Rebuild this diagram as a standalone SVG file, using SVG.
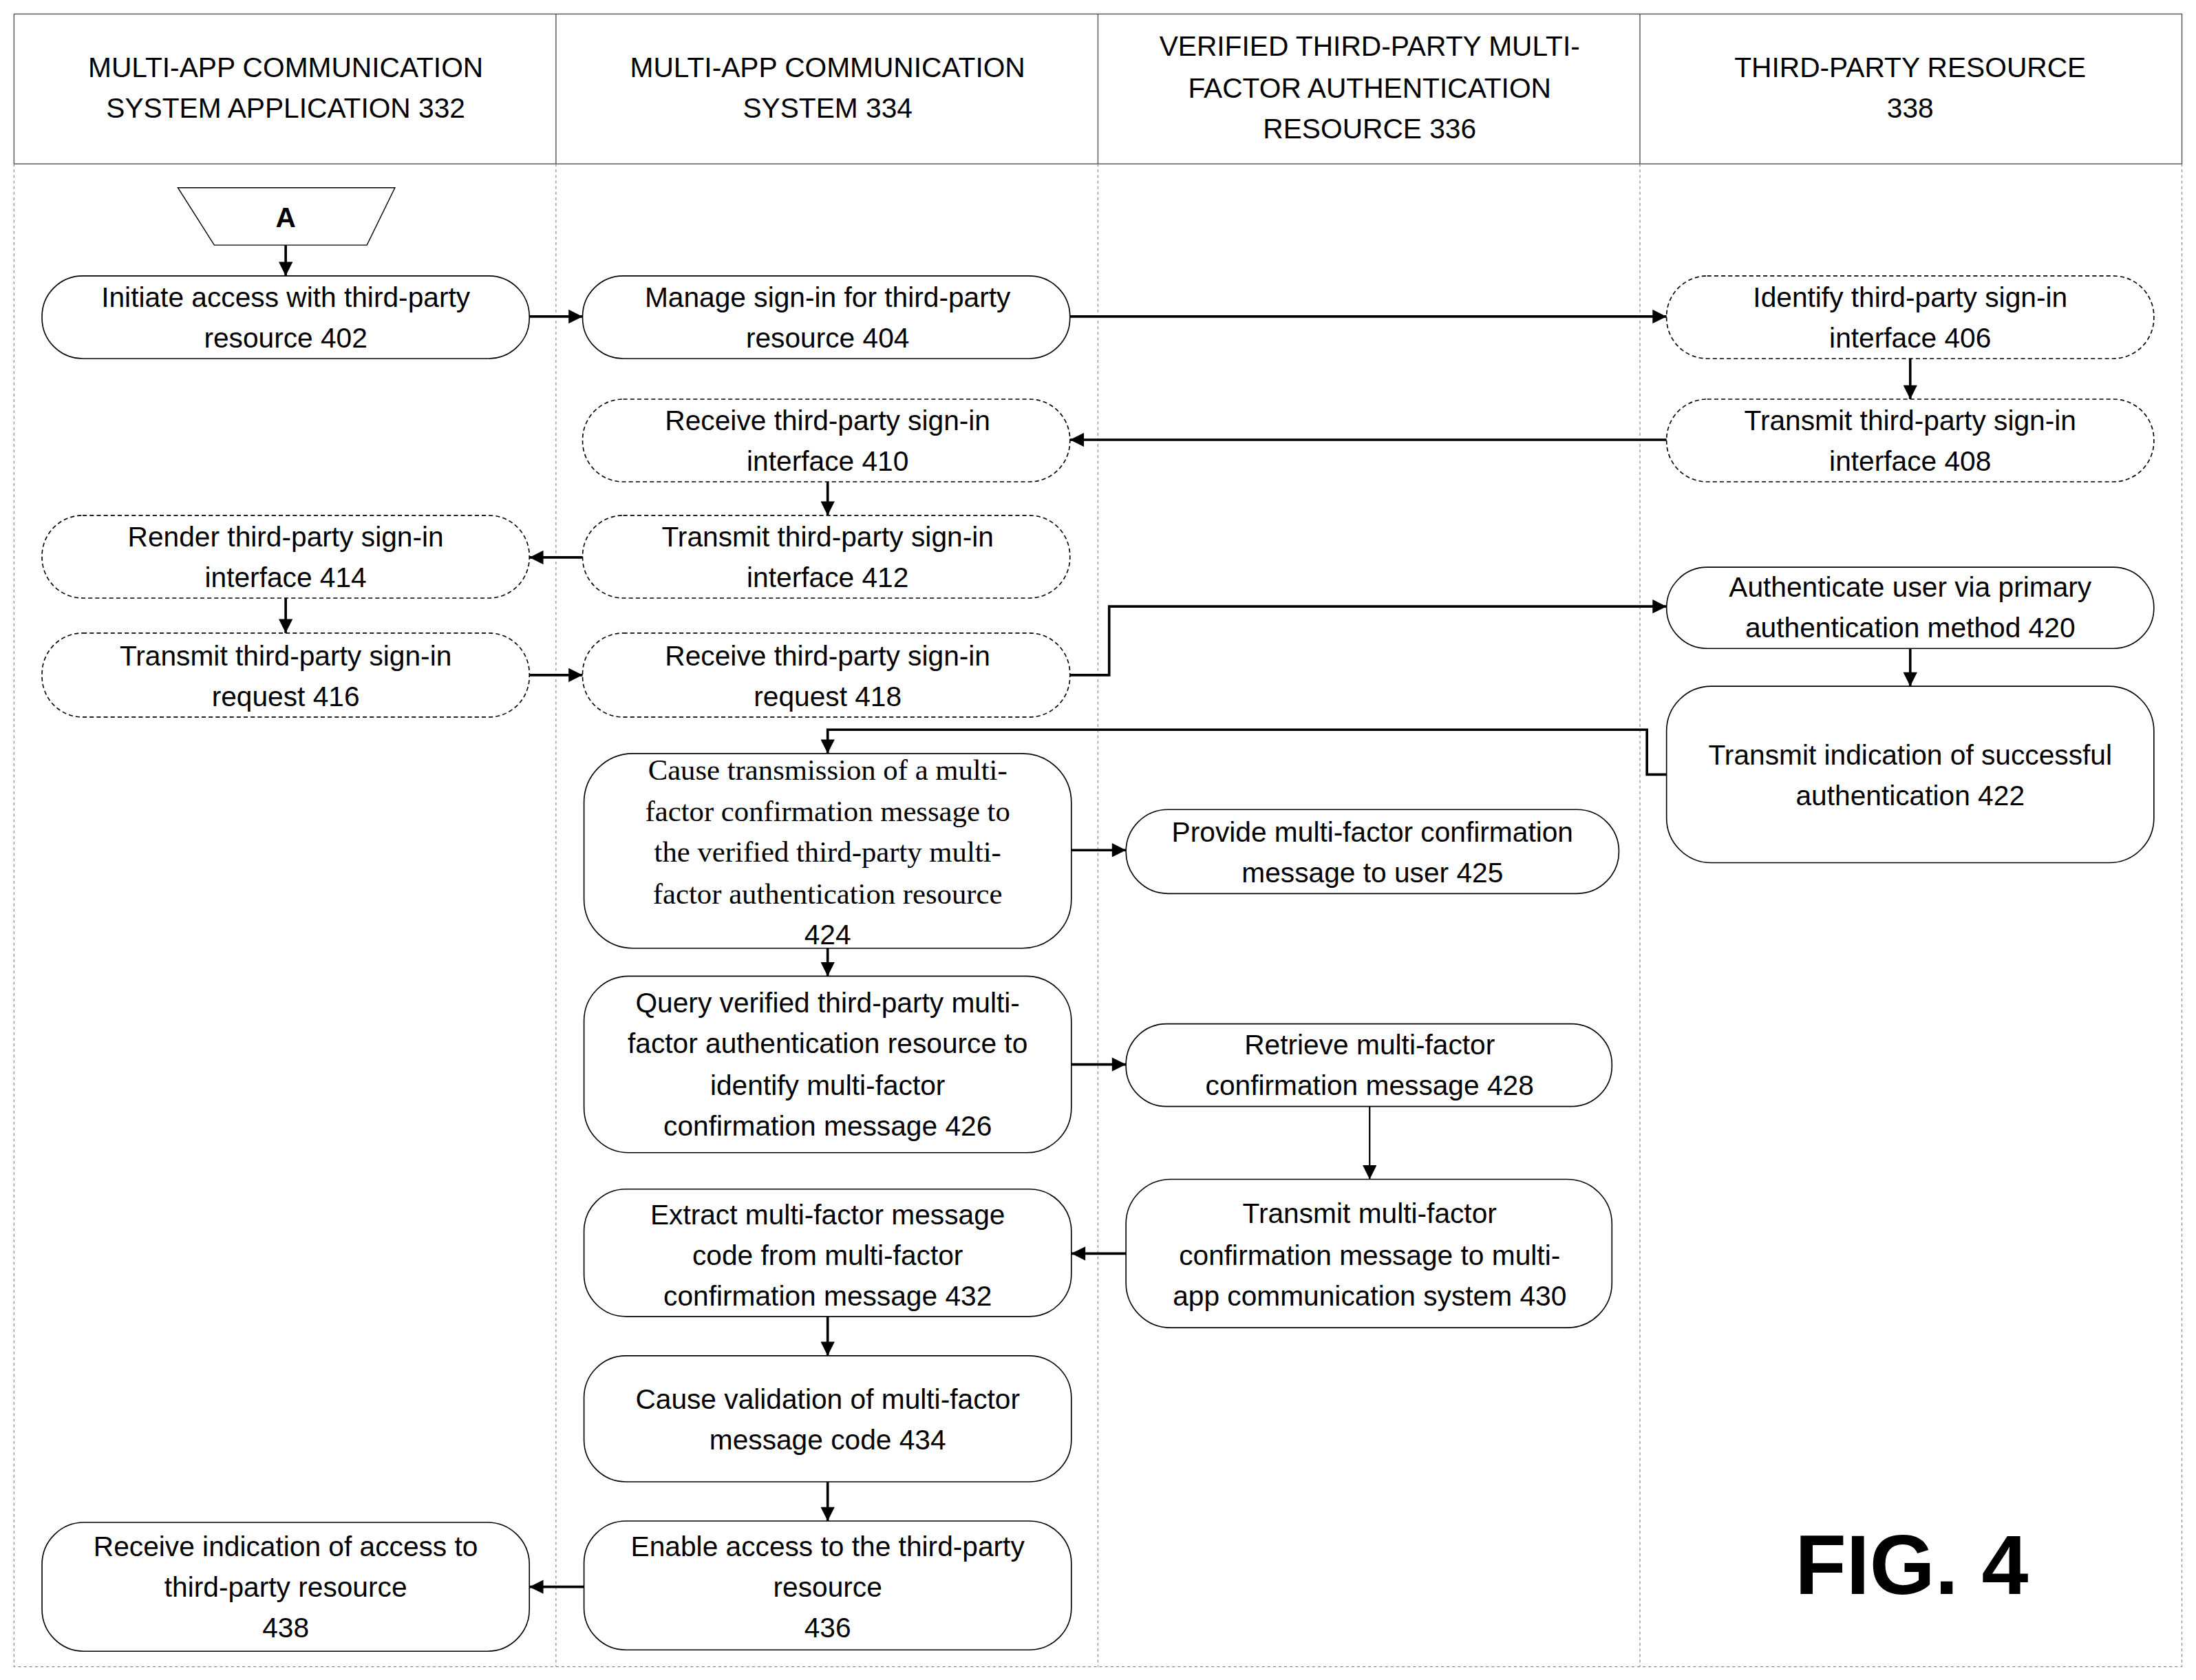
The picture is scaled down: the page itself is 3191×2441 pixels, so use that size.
<svg xmlns="http://www.w3.org/2000/svg" width="3191" height="2441" viewBox="0 0 3191 2441">
<defs>
<style>
text{font-family:"Liberation Sans",Arial,sans-serif;font-size:20px;text-anchor:middle;fill:#000}
.h{font-size:20px}
.s{font-family:"Liberation Serif","Times New Roman",serif;font-size:21px}
.n{fill:#fff;stroke:#000;stroke-width:0.8}
.d{stroke-dasharray:3 2}
.c{fill:none;stroke:#000;stroke-width:1.8;marker-end:url(#ar)}
.t{stroke-width:1.1}
.dv{stroke:#888;stroke-width:0.6;stroke-dasharray:2 2}
</style>
<marker id="ar" viewBox="0 0 10 10" refX="10" refY="5" markerWidth="11" markerHeight="10" markerUnits="userSpaceOnUse" orient="auto"><path d="M0,0L10,5L0,10z" fill="#000"/></marker>
</defs>
<rect width="3191" height="2441" fill="#fff"/>
<g transform="scale(2.035)">
<g id="lanes">
<rect x="10" y="10" width="1548" height="107" fill="none" stroke="#555" stroke-width="0.7"/>
<line x1="397" y1="10" x2="397" y2="117" stroke="#555" stroke-width="0.7"/>
<line x1="784" y1="10" x2="784" y2="117" stroke="#555" stroke-width="0.7"/>
<line x1="1171" y1="10" x2="1171" y2="117" stroke="#555" stroke-width="0.7"/>
<path class="dv" d="M10,117V1190H1558V117M397,117V1190M784,117V1190M1171,117V1190" fill="none"/>
<text class="h" x="204" y="55">MULTI-APP COMMUNICATION</text><text class="h" x="204" y="84">SYSTEM APPLICATION 332</text>
<text class="h" x="591" y="55">MULTI-APP COMMUNICATION</text><text class="h" x="591" y="84">SYSTEM 334</text>
<text class="h" x="978" y="40">VERIFIED THIRD-PARTY MULTI-</text><text class="h" x="978" y="70">FACTOR AUTHENTICATION</text><text class="h" x="978" y="99">RESOURCE 336</text>
<text class="h" x="1364" y="55">THIRD-PARTY RESOURCE</text><text class="h" x="1364" y="84">338</text>
</g>
<g id="A"><path d="M127,134H282L262,175H153Z" fill="#fff" stroke="#000" stroke-width="0.7"/><text x="204" y="162" style="font-weight:bold">A</text></g>
<g id="n402"><rect class="n" x="30" y="197" width="348" height="59" rx="29"/><text x="204" y="219">Initiate access with third-party</text><text x="204" y="248">resource 402</text></g>
<g id="n404"><rect class="n" x="416" y="197" width="348" height="59" rx="29"/><text x="591" y="219">Manage sign-in for third-party</text><text x="591" y="248">resource 404</text></g>
<g id="n406"><rect class="n d" x="1190" y="197" width="348" height="59" rx="29"/><text x="1364" y="219">Identify third-party sign-in</text><text x="1364" y="248">interface 406</text></g>
<g id="n408"><rect class="n d" x="1190" y="285" width="348" height="59" rx="29"/><text x="1364" y="307">Transmit third-party sign-in</text><text x="1364" y="336">interface 408</text></g>
<g id="n410"><rect class="n d" x="416" y="285" width="348" height="59" rx="29"/><text x="591" y="307">Receive third-party sign-in</text><text x="591" y="336">interface 410</text></g>
<g id="n412"><rect class="n d" x="416" y="368" width="348" height="59" rx="29"/><text x="591" y="390">Transmit third-party sign-in</text><text x="591" y="419">interface 412</text></g>
<g id="n414"><rect class="n d" x="30" y="368" width="348" height="59" rx="29"/><text x="204" y="390">Render third-party sign-in</text><text x="204" y="419">interface 414</text></g>
<g id="n416"><rect class="n d" x="30" y="452" width="348" height="60" rx="29"/><text x="204" y="475">Transmit third-party sign-in</text><text x="204" y="504">request 416</text></g>
<g id="n418"><rect class="n d" x="416" y="452" width="348" height="60" rx="29"/><text x="591" y="475">Receive third-party sign-in</text><text x="591" y="504">request 418</text></g>
<g id="n420"><rect class="n" x="1190" y="405" width="348" height="58" rx="29"/><text x="1364" y="426">Authenticate user via primary</text><text x="1364" y="455">authentication method 420</text></g>
<g id="n422"><rect class="n" x="1190" y="490" width="348" height="126" rx="32"/><text x="1364" y="546">Transmit indication of successful</text><text x="1364" y="575">authentication 422</text></g>
<g id="n424"><rect class="n" x="417" y="538" width="348" height="139" rx="35"/><text class="s" x="591" y="557">Cause transmission of a multi-</text><text class="s" x="591" y="586">factor confirmation message to</text><text class="s" x="591" y="615">the verified third-party multi-</text><text class="s" x="591" y="645">factor authentication resource</text><text x="591" y="674">424</text></g>
<g id="n425"><rect class="n" x="804" y="578" width="352" height="60" rx="30"/><text x="980" y="601">Provide multi-factor confirmation</text><text x="980" y="630">message to user 425</text></g>
<g id="n426"><rect class="n" x="417" y="697" width="348" height="126" rx="32"/><text x="591" y="723">Query verified third-party multi-</text><text x="591" y="752">factor authentication resource to</text><text x="591" y="782">identify multi-factor</text><text x="591" y="811">confirmation message 426</text></g>
<g id="n428"><rect class="n" x="804" y="731" width="347" height="59" rx="29"/><text x="978" y="753">Retrieve multi-factor</text><text x="978" y="782">confirmation message 428</text></g>
<g id="n430"><rect class="n" x="804" y="842" width="347" height="106" rx="32"/><text x="978" y="873">Transmit multi-factor</text><text x="978" y="903">confirmation message to multi-</text><text x="978" y="932">app communication system 430</text></g>
<g id="n432"><rect class="n" x="417" y="849" width="348" height="91" rx="30"/><text x="591" y="874">Extract multi-factor message</text><text x="591" y="903">code from multi-factor</text><text x="591" y="932">confirmation message 432</text></g>
<g id="n434"><rect class="n" x="417" y="968" width="348" height="90" rx="30"/><text x="591" y="1006">Cause validation of multi-factor</text><text x="591" y="1035">message code 434</text></g>
<g id="n436"><rect class="n" x="417" y="1086" width="348" height="92" rx="30"/><text x="591" y="1111">Enable access to the third-party</text><text x="591" y="1140">resource</text><text x="591" y="1169">436</text></g>
<g id="n438"><rect class="n" x="30" y="1087" width="348" height="92" rx="30"/><text x="204" y="1111">Receive indication of access to</text><text x="204" y="1140">third-party resource</text><text x="204" y="1169">438</text></g>
<text x="1365" y="1138" style="font-size:60px;font-weight:bold">FIG. 4</text>
<g id="connectors">
<path class="c" d="M204,175V197"/>
<path class="c" d="M378,226H416"/>
<path class="c" d="M764,226H1190"/>
<path class="c" d="M1364,256V285"/>
<path class="c" d="M1190,314H764"/>
<path class="c" d="M591,344V368"/>
<path class="c" d="M416,398H378"/>
<path class="c" d="M204,427V452"/>
<path class="c" d="M378,482H416"/>
<path class="c" d="M764,482H792V433H1190"/>
<path class="c" d="M1364,463V490"/>
<path class="c" d="M1190,553H1176V521H591V538"/>
<path class="c" d="M765,607H804"/>
<path class="c" d="M591,677V697"/>
<path class="c" d="M765,760H804"/>
<path class="c t" d="M978,790V842"/>
<path class="c" d="M804,895H765"/>
<path class="c" d="M591,940V968"/>
<path class="c" d="M591,1058V1086"/>
<path class="c" d="M417,1133H378"/>
</g>
</g>
</svg>
